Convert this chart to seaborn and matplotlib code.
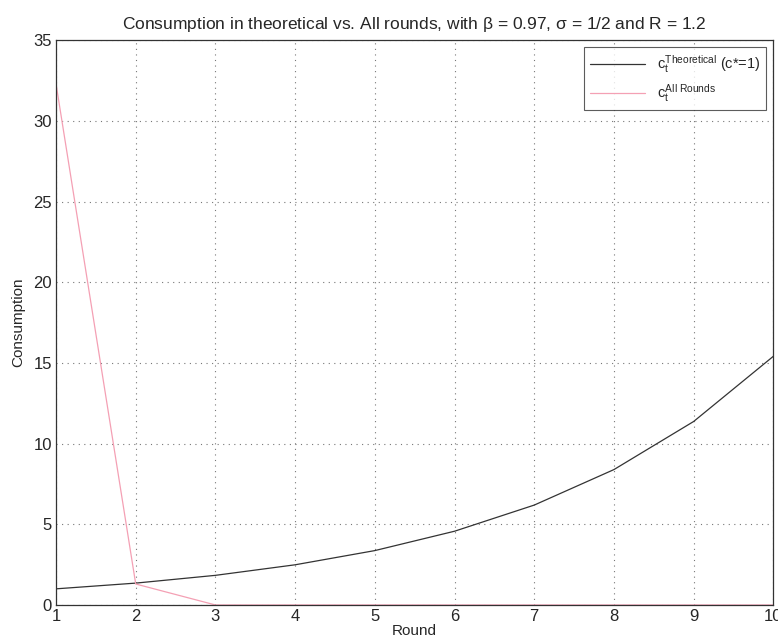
import matplotlib
matplotlib.use("Agg")
import matplotlib.pyplot as plt
import seaborn as sns
import numpy as np

# data
rounds = [1, 2, 3, 4, 5, 6, 7, 8, 9, 10]
c_theoretical = [1.0, 1.355, 1.836, 2.49, 3.37, 4.57, 6.19, 8.39, 11.37, 15.41]
c_all_rounds = [32.3, 1.3, 0, 0, 0, 0, 0, 0, 0, 0]

sns.set_style("white")
plt.rcParams['font.family'] = ['Liberation Sans', 'DejaVu Sans']
plt.rcParams['mathtext.fontset'] = 'custom'
plt.rcParams['mathtext.rm'] = 'Liberation Sans'
plt.rcParams['mathtext.it'] = 'Liberation Sans'

fig = plt.figure(figsize=(7.78, 6.44), dpi=100)
ax = fig.add_axes([0.072, 0.0606, 0.922, 0.877])

sns.lineplot(x=rounds, y=c_theoretical, ax=ax, color='#333333', linewidth=0.9,
             label=r'$c_t^{\mathrm{Theoretical}}$ (c*=1)')
sns.lineplot(x=rounds, y=c_all_rounds, ax=ax, color='#f4a0b4', linewidth=0.9,
             label=r'$c_t^{\mathrm{All\ Rounds}}$')

ax.set_xlim(1, 10)
ax.set_ylim(0, 35)
ax.set_xticks(range(1, 11))
ax.set_yticks(range(0, 36, 5))
ax.grid(True, linestyle=(0, (1, 4)), color='#777777', linewidth=0.8)
ax.tick_params(direction='in', length=5, labelsize=12, color='#333333', pad=3)
for s in ax.spines.values():
    s.set_color('#333333')
    s.set_linewidth(0.9)

ax.set_title(r'Consumption in theoretical vs. All rounds, with $\beta$ = 0.97, $\sigma$ = 1/2 and R = 1.2',
             fontsize=12.5, pad=8)
ax.set_xlabel('Round', fontsize=11, labelpad=0)
ax.set_ylabel('Consumption', fontsize=11, labelpad=6)

leg = ax.legend(loc='upper right', fontsize=10.5, frameon=True, fancybox=False,
                edgecolor='#333333', borderaxespad=0.5, handlelength=3.8)
leg.get_frame().set_linewidth(0.8)

fig.savefig("out.png", dpi=100)
